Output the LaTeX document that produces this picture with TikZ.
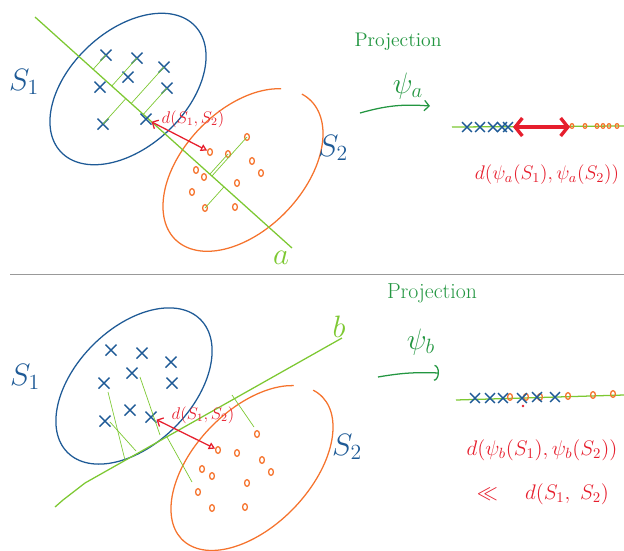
\RequirePackage{fix-cm}
\documentclass[tikz,border=0pt]{standalone}
\usepackage{amsmath,amssymb}
\usepackage{tikz}
\usetikzlibrary{arrows.meta,calc,shapes.misc,shapes.geometric}
\definecolor{sblue}{RGB}{30,90,150}
\definecolor{sorange}{RGB}{245,115,45}
\definecolor{plime}{RGB}{125,200,50}
\definecolor{pgreen}{RGB}{35,150,65}
\definecolor{dred}{RGB}{230,30,45}

\begin{document}
\begin{tikzpicture}[x=0.25mm, y=-0.25mm,
    xpt/.style={cross out, draw=sblue, line width=1pt, minimum size=2.4mm, inner sep=0pt},
    xsm/.style={xpt, minimum size=2.1mm},
    opt/.style={ellipse, draw=sorange, line width=0.9pt, minimum width=1.2mm,
                minimum height=1.7mm, inner sep=0pt},
    osm/.style={opt, minimum width=0.9mm, minimum height=1.2mm},
    setline/.style={line width=0.9pt},
    dirline/.style={plime, line width=0.9pt},
    proj/.style={plime, line width=0.5pt},
    slbl/.style={inner sep=0pt, text=sblue, font=\fontsize{22}{26}\selectfont},
    dlbl/.style={inner sep=0pt, text=dred, font=\fontsize{12}{14}\selectfont},
    rtxt/.style={inner sep=0pt, text=dred, font=\fontsize{14}{17}\selectfont},
    ptxt/.style={inner sep=0pt, text=pgreen, font=\fontsize{14}{17}\selectfont},
    psitxt/.style={inner sep=0pt, text=pgreen, font=\fontsize{21}{25}\selectfont},
    darr/.style={dred, line width=0.9pt,
                 {Straight Barb[length=1.2mm,width=2.4mm]}-{Triangle[open,length=1.6mm,width=1.8mm]}},
    bigarr/.style={dred, line width=2.4pt,
                   {Straight Barb[length=1.8mm,width=4.5mm]}-{Straight Barb[length=1.8mm,width=4.5mm]}},
    parr/.style={pgreen, line width=0.9pt}
]
\useasboundingbox (0,0) rectangle (624,550);

% ---------- top panel ----------
\begin{scope}[shift={(128,89)}, rotate=43]
  \draw[sblue, setline] (0,0) ellipse [x radius=92, y radius=58];
\end{scope}
\begin{scope}[shift={(243,170)}, rotate=46]
  \draw[sorange, setline] (-10:97 and 60) arc[start angle=-10, end angle=331, x radius=97, y radius=60];
\end{scope}

\coordinate (la1) at (35,17);
\coordinate (la2) at (292,248);
\draw[dirline] (la1) -- (la2);
\node[text=plime, inner sep=0pt, font=\fontsize{22}{26}\selectfont] (lbla) at (281,258) {$a$};

\foreach \px/\py [count=\i] in {106/55, 137/58, 164/67, 128/77, 100/87, 167/88, 103/124, 146/119}
  \node[xpt] (ax\i) at (\px,\py) {};
\foreach \px/\py [count=\i] in {247/137, 210/152, 228/154, 252/161, 196/170, 204/177,
                                261/173, 237/183, 192/192, 205/208, 235/207}
  \node[opt] (ao\i) at (\px,\py) {};

% projections onto a
\foreach \i in {1,2,3,6,7}
  \draw[proj] (ax\i.center) -- ($(la1)!(ax\i.center)!(la2)$);
\foreach \i in {1,3,10}
  \draw[proj] (ao\i.center) -- ($(la1)!(ao\i.center)!(la2)$);

\draw[darr] (ax8) -- (ao2);
\node[dlbl] (da) at (193,119) {$d(S_1,S_2)$};

\node[slbl] (s1a) at (24,82) {$S_1$};
\node[slbl] (s2a) at (333,148) {$S_2$};

\node[ptxt] (pra) at (398,42) {Projection};
\node[psitxt] (psa) at (408,86) {$\psi_a$};
\coordinate (pa1) at (360,113);
\coordinate (pa2) at (430,106);
\draw[parr, -{Straight Barb[length=1.2mm,width=2.6mm]}] (pa1) to[bend left=10] (pa2);

% projected line a
\coordinate (ra1) at (452,127);
\coordinate (ra2) at (624,126);
\draw[dirline] (ra1) -- (ra2);
\foreach \px [count=\i] in {467,480,493,502,508}
  \node[xsm] (rx\i) at (\px,127) {};
\foreach \px [count=\i] in {572,585,597,603,609,617}
  \node[osm] (ro\i) at (\px,126) {};
\coordinate (da1) at (513,127);
\coordinate (da2) at (570,127);
\draw[bigarr] (da1) -- (da2);
\node[rtxt] (rda) at (547,175) {$d(\psi_a(S_1),\psi_a(S_2))$};

% separator
\coordinate (sep1) at (10,274);
\coordinate (sep2) at (624,274);
\draw[gray!80, line width=0.6pt] (sep1) -- (sep2);

% ---------- bottom panel ----------
\begin{scope}[shift={(134,386)}, rotate=45]
  \draw[sblue, setline] (0,0) ellipse [x radius=94, y radius=58];
\end{scope}
\begin{scope}[shift={(252,468)}, rotate=46]
  \draw[sorange, setline] (-10:100 and 58) arc[start angle=-10, end angle=332, x radius=100, y radius=58];
\end{scope}

\coordinate (lb0) at (55,507);
\coordinate (lb1) at (85,483);
\coordinate (lb2) at (342,338);
\draw[dirline] (lb0) -- (63,500) -- (lb1) -- (lb2);
\node[text=plime, inner sep=0pt, font=\fontsize{22}{26}\selectfont] (lblb) at (339,327) {$b$};

\foreach \px/\py [count=\i] in {111/350, 142/353, 171/362, 132/373, 104/383, 172/383, 130/410, 105/421, 151/417}
  \node[xpt] (bx\i) at (\px,\py) {};
\foreach \px/\py [count=\i] in {257/434, 218/450, 237/453, 262/460, 202/469, 212/476,
                                271/472, 247/483, 198/492, 212/508, 245/507}
  \node[opt] (bo\i) at (\px,\py) {};

% projections onto b
\draw[proj] (108,392) -- (125,460);
\draw[proj] (110,422) -- (136,451);
\draw[proj] (140,377) -- (160,435);
\draw[proj] (167,437) -- (192,482);
\draw[proj] (232,395) -- (254,427);

\draw[darr] (bx9) -- (bo2);
\node[dlbl] (db) at (203,415) {$d(S_1,S_2)$};

\node[slbl] (s1b) at (25,377) {$S_1$};
\node[slbl] (s2b) at (347,447) {$S_2$};

\node[ptxt, font=\fontsize{15.5}{18}\selectfont] (prb) at (432,293) {Projection};
\node[psitxt] (psb) at (421,342) {$\psi_b$};
\coordinate (pb1) at (378,377);
\coordinate (pb2) at (439,373);
\draw[parr, -{Arc Barb[length=1.2mm,width=4mm]}] (pb1) to[bend left=6] (pb2);

% projected line b
\coordinate (rb1) at (456,400);
\coordinate (rb2) at (624,395);
\draw[dirline] (rb1) -- (rb2);
\foreach \px/\py [count=\i] in {510/397, 526/397, 540/397, 568/396, 593/395, 613/394}
  \node[opt] (so\i) at (\px,\py) {};
\foreach \px/\py [count=\i] in {475/398, 490/398, 503/398, 522/398, 537/397, 555/397}
  \node[xsm] (sx\i) at (\px,\py) {};
\fill[dred] (523,406) circle [radius=1.3];
\node[rtxt, font=\fontsize{15}{18}\selectfont] (rdb) at (542,450) {$d(\psi_b(S_1),\psi_b(S_2))$};
\node[rtxt, font=\fontsize{15}{18}\selectfont] (rdc) at (543,494) {$\ll\quad d(S_1,\ S_2)$};

\end{tikzpicture}
\end{document}
